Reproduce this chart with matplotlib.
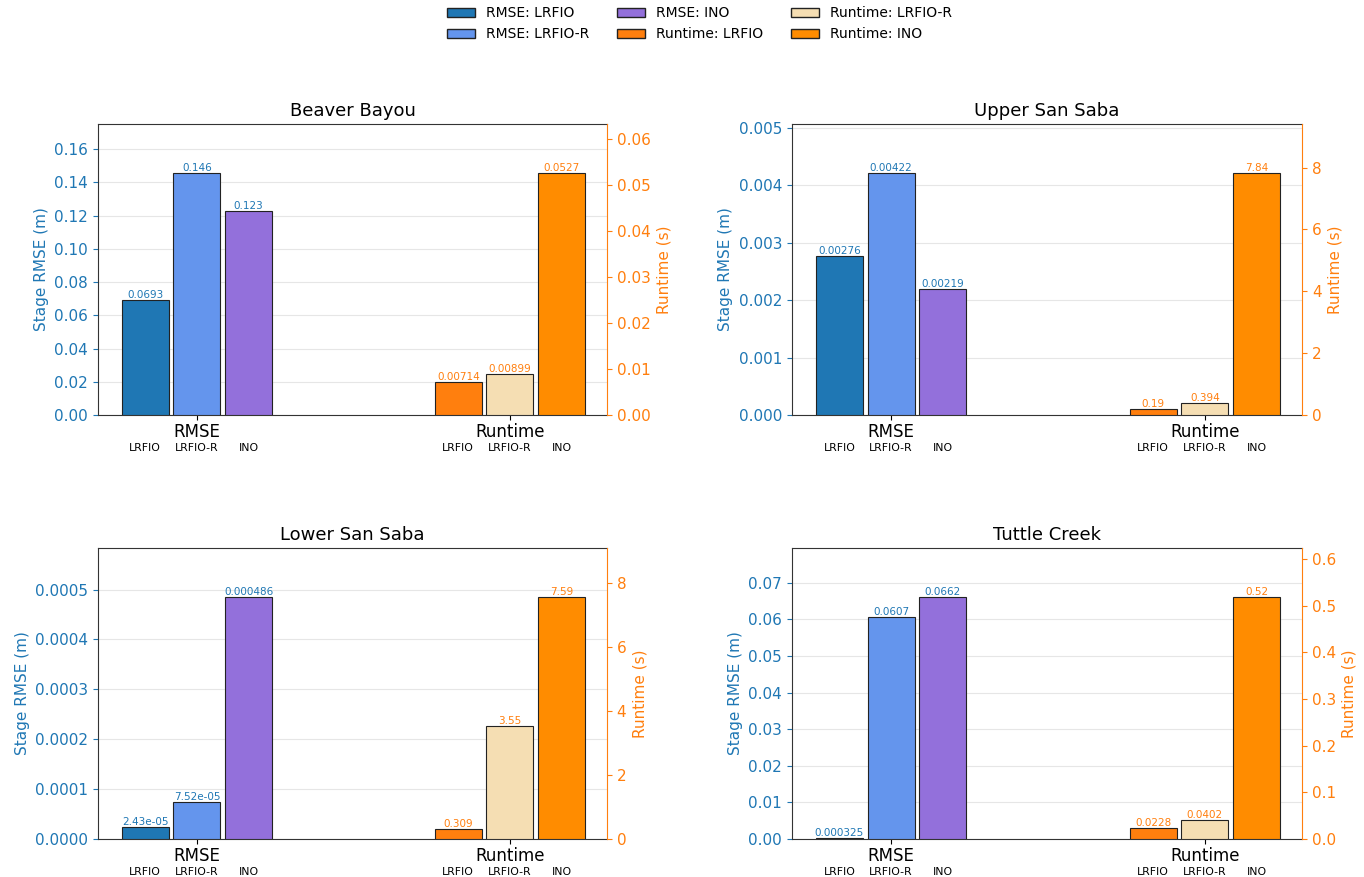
import numpy as np
import matplotlib.pyplot as plt
from matplotlib.patches import Patch

# Stage RMSE (m) and runtime (s) for each basin, per method
basins = ["Beaver Bayou", "Upper San Saba", "Lower San Saba", "Tuttle Creek"]
methods = ["LRFIO", "LRFIO-R", "INO"]

rmse_beaver = [0.0693, 0.146, 0.123]
rmse_upper = [0.00276, 0.00422, 0.00219]
rmse_lower = [2.43e-05, 7.52e-05, 0.000486]
rmse_tuttle = [0.000325, 0.0607, 0.0662]

runtime_beaver = [0.00714, 0.00899, 0.0527]
runtime_upper = [0.19, 0.394, 7.84]
runtime_lower = [0.309, 3.55, 7.59]
runtime_tuttle = [0.0228, 0.0402, 0.52]

rmse_all = [rmse_beaver, rmse_upper, rmse_lower, rmse_tuttle]
runtime_all = [runtime_beaver, runtime_upper, runtime_lower, runtime_tuttle]

rmse_colors = ["#1f77b4", "#6495ED", "#9370DB"]
runtime_colors = ["#ff7f0e", "#F5DEB3", "#FF8C00"]
c_left = "tab:blue"
c_right = "tab:orange"

width = 0.15
offsets = np.array([-0.165, 0.0, 0.165])
groups = [0.0, 1.0]

fig = plt.figure(figsize=(13.64, 8.77), dpi=100)
positions = [
    [0.0718, 0.5268, 0.3732, 0.3318],
    [0.5806, 0.5268, 0.3740, 0.3318],
    [0.0718, 0.0433, 0.3732, 0.3318],
    [0.5806, 0.0433, 0.3740, 0.3318],
]

for name, rmse, rt, pos in zip(basins, rmse_all, runtime_all, positions):
    ax = fig.add_axes(pos)
    ax2 = ax.twinx()

    xr = groups[0] + offsets
    xt = groups[1] + offsets
    bars1 = ax.bar(xr, rmse, width, color=rmse_colors, edgecolor="#222222", linewidth=0.8, zorder=3)
    bars2 = ax2.bar(xt, rt, width, color=runtime_colors, edgecolor="#222222", linewidth=0.8, zorder=3)

    for b, v in zip(bars1, rmse):
        ax.text(b.get_x() + b.get_width() / 2, v, f"{v:.3g}", ha="center", va="bottom",
                fontsize=7.5, color=c_left)
    for b, v in zip(bars2, rt):
        ax2.text(b.get_x() + b.get_width() / 2, v, f"{v:.3g}", ha="center", va="bottom",
                 fontsize=7.5, color=c_right)

    # both axes scaled so the tallest bar in each group lines up
    ax.set_ylim(0, max(rmse) * 1.2)
    ax2.set_ylim(0, max(rt) * 1.2)
    ax.set_xlim(-0.316, 1.31)

    ax.set_xticks(groups)
    ax.set_xticklabels(["RMSE", "Runtime"], fontsize=12)
    ax.tick_params(axis="x", pad=2)

    # method names under each bar
    for g in groups:
        for off, m in zip(offsets, methods):
            ax.text(g + off, -0.112, m, transform=ax.get_xaxis_transform(),
                    ha="center", va="center", fontsize=7.8)

    ax.set_title(name, fontsize=13)
    ax.set_ylabel("Stage RMSE (m)", color=c_left, fontsize=11)
    ax2.set_ylabel("Runtime (s)", color=c_right, fontsize=11)
    ax.tick_params(axis="y", colors=c_left, labelsize=11)
    ax2.tick_params(axis="y", colors=c_right, labelsize=11)
    ax2.spines["right"].set_color(c_right)
    ax.spines["right"].set_visible(False)
    for s in ["left", "top", "bottom"]:
        ax.spines[s].set_color("#333333")
        ax2.spines[s].set_visible(False)
    ax.grid(axis="y", color="#e6e6e6", linewidth=0.8, zorder=0)
    ax.set_axisbelow(True)

handles = [Patch(facecolor=c, edgecolor="#222222", label=f"RMSE: {m}")
           for c, m in zip(rmse_colors, methods)]
handles += [Patch(facecolor=c, edgecolor="#222222", label=f"Runtime: {m}")
            for c, m in zip(runtime_colors, methods)]
fig.legend(handles=handles, loc="upper center", ncol=3, frameon=False,
           bbox_to_anchor=(0.513, 1.007), fontsize=10)

fig.savefig("out.png", dpi=100)
